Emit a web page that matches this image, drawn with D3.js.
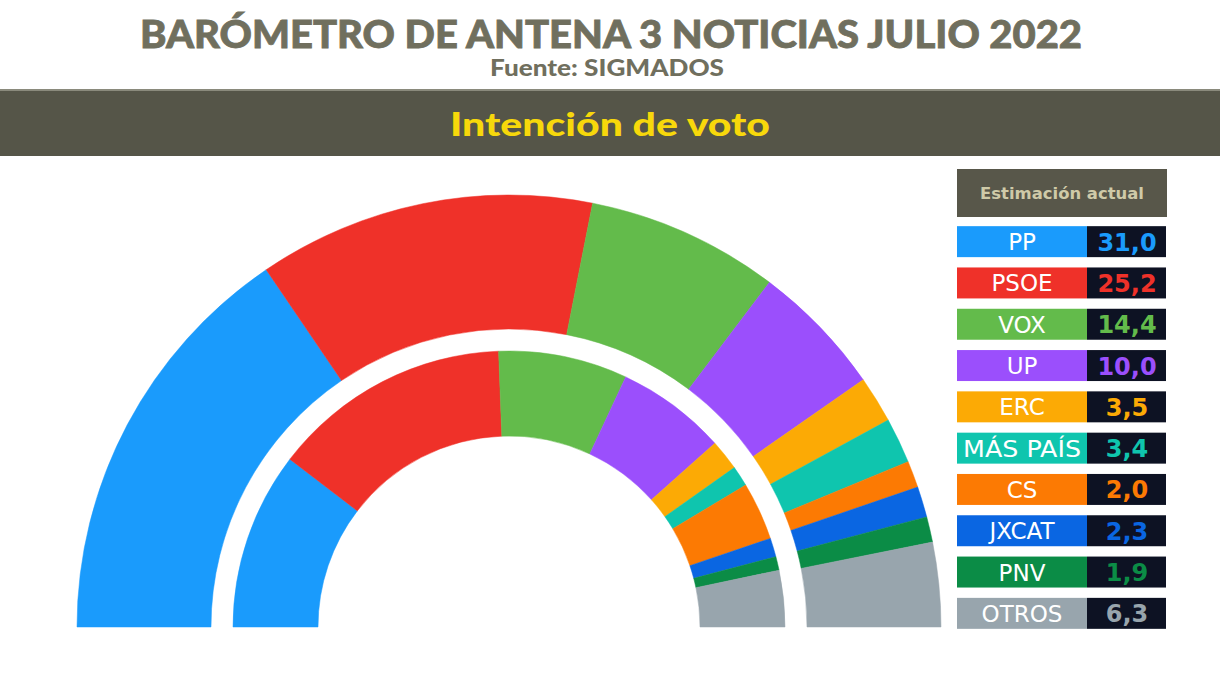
<!DOCTYPE html>
<html>
<head>
<meta charset="utf-8">
<script src="https://cdn.jsdelivr.net/npm/d3@7"></script>
<style>
  html, body { margin: 0; padding: 0; background: #fff; }
  svg { display: block; }
</style>
</head>
<body>
<div id="chart"></div>
<script>
// --------------- Data ---------------
const PARTIES = ["PP", "PSOE", "VOX", "UP", "ERC", "MÁS PAÍS", "CS", "JXCAT", "PNV", "OTROS"];
const COLORS = ["#1a9bfc", "#ef3129", "#63bb4b", "#9b4ffc", "#fcaa05", "#0fc5ae", "#fc7a03", "#0a66e2", "#0b8c46", "#98a5ad"];
// outer ring: current estimate (July 2022)
const ESTIMATE = [31.0, 25.2, 14.4, 10.0, 3.5, 3.4, 2.0, 2.3, 1.9, 6.3];
// inner ring: previous result
const PREVIOUS = [20.8, 28.0, 15.1, 12.9, 3.6, 2.4, 6.8, 2.2, 1.6, 6.6];

const TITLE = "BARÓMETRO DE ANTENA 3 NOTICIAS JULIO 2022";
const SUBTITLE = "Fuente: SIGMADOS";
const BAND_TITLE = "Intención de voto";
const LEGEND_TITLE = "Estimación actual";

// --------------- Constants ---------------
const WIDTH = 1220;
const HEIGHT = 686;
const CX = 509;
const CY = 627;
const OUTER_RING = [298, 432];
const INNER_RING = [191, 276];
const TITLE_COLOR = "#706f5e";
const BAND_COLOR = "#555548";
const VALUE_BG = "#0d1223";

const fmt = (v) => v.toFixed(1).replace(".", ",");

const svg = d3
  .select("#chart")
  .append("svg")
  .attr("width", WIDTH)
  .attr("height", HEIGHT);

// --------------- Header ---------------
svg.append("text")
  .attr("x", 611)
  .attr("y", 48)
  .attr("text-anchor", "middle")
  .attr("textLength", 942)
  .attr("lengthAdjust", "spacingAndGlyphs")
  .attr("fill", TITLE_COLOR)
  .attr("stroke", TITLE_COLOR)
  .attr("stroke-width", 0.8)
  .style("font-family", "Lato, 'Open Sans', sans-serif")
  .style("font-weight", 900)
  .style("font-size", "38px")
  .text(TITLE);

svg.append("text")
  .attr("x", 607)
  .attr("y", 76)
  .attr("text-anchor", "middle")
  .attr("textLength", 234)
  .attr("lengthAdjust", "spacingAndGlyphs")
  .attr("fill", TITLE_COLOR)
  .style("font-family", "Lato, 'Open Sans', sans-serif")
  .style("font-weight", 900)
  .style("font-size", "22px")
  .text(SUBTITLE);

svg.append("rect")
  .attr("x", 0)
  .attr("y", 89)
  .attr("width", WIDTH)
  .attr("height", 67)
  .attr("fill", BAND_COLOR);
svg.append("rect")
  .attr("x", 0)
  .attr("y", 89)
  .attr("width", WIDTH)
  .attr("height", 2)
  .attr("fill", "#8a8a7c");

svg.append("text")
  .attr("x", 610)
  .attr("y", 136)
  .attr("text-anchor", "middle")
  .attr("textLength", 320)
  .attr("lengthAdjust", "spacingAndGlyphs")
  .attr("fill", "#f7d80b")
  .style("font-family", "Lato, 'Open Sans', sans-serif")
  .style("font-weight", 900)
  .style("font-size", "33px")
  .text(BAND_TITLE);

// --------------- Rings ---------------
const pie = d3.pie()
  .sort(null)
  .startAngle(-Math.PI / 2)
  .endAngle(Math.PI / 2);

const ringGroup = svg.append("g").attr("transform", `translate(${CX},${CY})`);

function renderRing(values, radii) {
  const arc = d3.arc().innerRadius(radii[0]).outerRadius(radii[1]);
  ringGroup.append("g")
    .selectAll("path")
    .data(pie(values))
    .enter()
    .append("path")
    .attr("d", arc)
    .attr("fill", (_d, i) => COLORS[i])
    .attr("stroke", (_d, i) => COLORS[i])
    .attr("stroke-width", 0.5);
}

renderRing(ESTIMATE, OUTER_RING);
renderRing(PREVIOUS, INNER_RING);

// --------------- Legend ---------------
const LEG_X = 957;
const LEG_W = 210;
const LABEL_W = 130;

svg.append("rect")
  .attr("x", LEG_X)
  .attr("y", 169)
  .attr("width", LEG_W)
  .attr("height", 48)
  .attr("fill", "#58574a");
svg.append("text")
  .attr("x", LEG_X + LEG_W / 2)
  .attr("y", 199)
  .attr("text-anchor", "middle")
  .attr("textLength", 164)
  .attr("lengthAdjust", "spacingAndGlyphs")
  .attr("fill", "#cfcaa8")
  .style("font-family", "'DejaVu Sans', sans-serif")
  .style("font-weight", 700)
  .style("font-size", "15px")
  .text(LEGEND_TITLE);

const rowY = d3.scaleBand()
  .domain(PARTIES)
  .range([221, 634])
  .paddingInner(0.25)
  .paddingOuter(0.125);

const rows = svg.append("g")
  .selectAll("g")
  .data(PARTIES)
  .enter()
  .append("g")
  .attr("transform", (d) => `translate(${LEG_X},${rowY(d)})`);

rows.append("rect")
  .attr("width", LABEL_W)
  .attr("height", rowY.bandwidth())
  .attr("fill", (_d, i) => COLORS[i]);

rows.append("rect")
  .attr("x", LABEL_W)
  .attr("width", LEG_W - LABEL_W - 1)
  .attr("height", rowY.bandwidth())
  .attr("fill", VALUE_BG);

rows.append("text")
  .attr("x", LABEL_W / 2)
  .attr("y", rowY.bandwidth() / 2 + 8.5)
  .attr("text-anchor", "middle")
  .attr("fill", "#ffffff")
  .attr("textLength", (d) => (d === "MÁS PAÍS" ? 118 : null))
  .attr("lengthAdjust", "spacingAndGlyphs")
  .style("font-family", "'DejaVu Sans', sans-serif")
  .style("font-size", "23px")
  .text((d) => d);

rows.append("text")
  .attr("x", LABEL_W + (LEG_W - LABEL_W) / 2)
  .attr("y", rowY.bandwidth() / 2 + 9)
  .attr("text-anchor", "middle")
  .attr("fill", (_d, i) => COLORS[i])
  .style("font-family", "'DejaVu Sans', sans-serif")
  .style("font-weight", 700)
  .style("font-size", "24px")
  .text((_d, i) => fmt(ESTIMATE[i]));
</script>
</body>
</html>
